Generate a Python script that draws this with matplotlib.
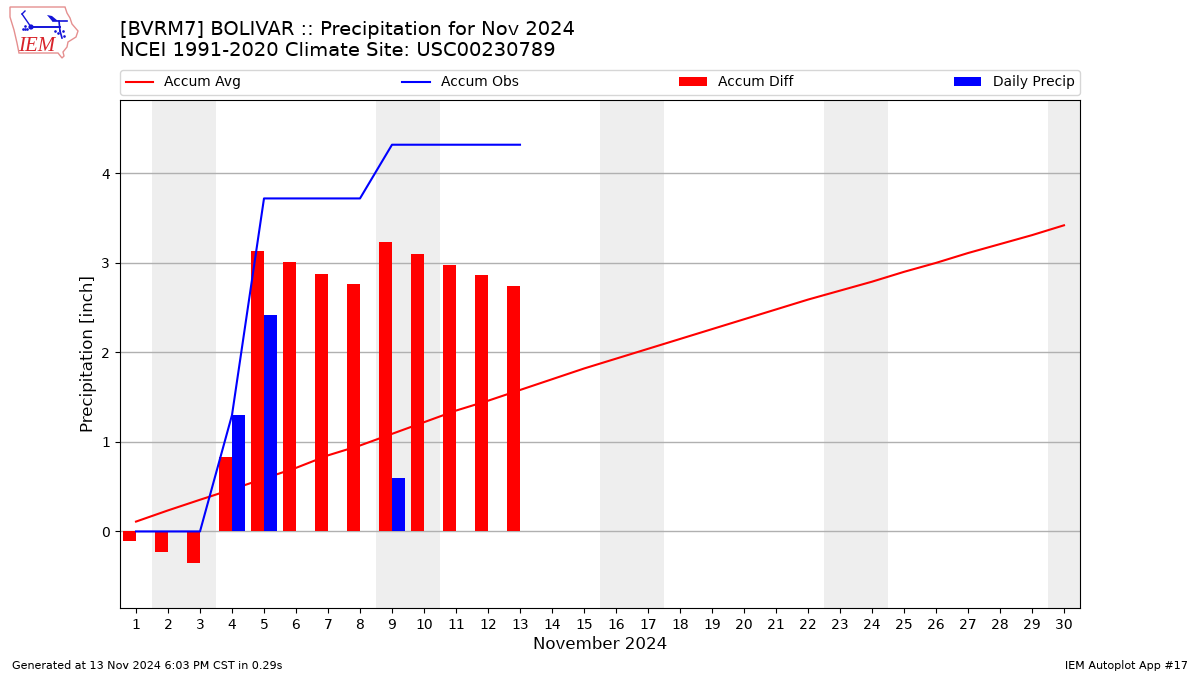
import matplotlib
matplotlib.use("Agg")
import matplotlib.pyplot as plt
from matplotlib.patches import Circle, Polygon

plt.rcParams["text.hinting"] = "native"

days = list(range(1, 31))
day_labels = [str(d) for d in days]
accum_avg = [0.11, 0.235, 0.354, 0.47, 0.59, 0.71, 0.85, 0.96, 1.09, 1.22, 1.35, 1.46, 1.58,
             1.70, 1.82, 1.93, 2.04, 2.15, 2.26, 2.37, 2.48, 2.59, 2.69, 2.79, 2.90, 3.00,
             3.11, 3.21, 3.31, 3.42]
obs_days = list(range(1, 14))
accum_obs = [0, 0, 0, 1.30, 3.72, 3.72, 3.72, 3.72, 4.32, 4.32, 4.32, 4.32, 4.32]
accum_diff = [-0.11, -0.235, -0.354, 0.827, 3.13, 3.005, 2.875, 2.76, 3.23, 3.095, 2.975, 2.86, 2.74]
daily_precip = [0, 0, 0, 1.30, 2.42, 0, 0, 0, 0.60, 0, 0, 0, 0]
weekends = [(1.5, 3.5), (8.5, 10.5), (15.5, 17.5), (22.5, 24.5), (29.5, 30.5)]
title = "[BVRM7] BOLIVAR :: Precipitation for Nov 2024\nNCEI 1991-2020 Climate Site: USC00230789"

fig = plt.figure(figsize=(12, 6.75), dpi=100)
ax = fig.add_axes([0.1, 0.0993, 0.8, 0.7526])

for a, b in weekends:
    ax.axvspan(a, b, color="#eeeeee", lw=0, zorder=0.5)
ax.grid(axis="y", color="#b0b0b0", lw=1, zorder=1)
ax.set_axisbelow(True)

l_avg, = ax.plot(days, accum_avg, color="red", lw=1.5, label="Accum Avg", zorder=2)
b_diff = ax.bar(obs_days, accum_diff, width=-0.4, align="edge", color="red", label="Accum Diff", zorder=2.1)
l_obs, = ax.plot(obs_days, accum_obs, color="blue", lw=1.5, label="Accum Obs", zorder=2.2)
b_prec = ax.bar(obs_days, daily_precip, width=0.4, align="edge", color="blue", label="Daily Precip", zorder=2.3)

ax.set_xlim(0.5, 30.5)
ax.set_ylim(-0.855, 4.82)
ax.set_xticks(days)
ax.set_xticklabels(day_labels)
ax.set_yticks([0, 1, 2, 3, 4])
ax.tick_params(labelsize=10)
ax.set_xlabel("November 2024", fontsize=12, labelpad=3)
ax.set_ylabel("Precipitation [inch]", fontsize=12, labelpad=3)

ax.legend([l_avg, l_obs, b_diff, b_prec], ["Accum Avg", "Accum Obs", "Accum Diff", "Daily Precip"],
          ncol=4, mode="expand", loc="lower left", bbox_to_anchor=(0, 1.0098, 1, 0.05),
          borderaxespad=0, fontsize=10)

fig.text(0.1, 0.9685, title, fontsize=14, va="top", ha="left")
fig.text(0.01, 0.0055, "Generated at 13 Nov 2024 6:03 PM CST in 0.29s", fontsize=8, va="bottom", ha="left")
fig.text(0.99, 0.0055, "IEM Autoplot App #17", fontsize=8, va="bottom", ha="right")

# Logo, drawn in its own pixel-sized overlay
logo = fig.add_axes([0, 1 - 65 / 675, 90 / 1200, 65 / 675])
logo.set_xlim(0, 90)
logo.set_ylim(65, 0)
logo.axis("off")
outline = [(10, 7), (65, 7), (67, 13), (70, 18), (72, 24), (78, 31), (76, 37), (68, 42), (67, 47),
           (63, 52), (64, 56), (62, 58), (58, 53), (19, 53), (17, 43), (14, 30), (10, 17)]
logo.add_patch(Polygon(outline, closed=True, fill=False, ec="#e58f8f", lw=1))
logo.plot([31, 60], [27, 27], color="#1414d8", lw=1.4)
logo.plot([53, 67], [21, 21], color="#1414d8", lw=1.2)
logo.plot([59, 60], [21, 31], color="#1414d8", lw=1.2)
logo.plot([60, 62], [31, 38], color="#1414d8", lw=1.2)
logo.plot([22, 31], [14, 27], color="#1414d8", lw=1)
logo.plot([22, 25], [14, 11], color="#1414d8", lw=1)
logo.add_patch(Polygon([(47, 15), (52, 16), (58, 21), (52, 21)], closed=True, fc="#1414d8", ec="none"))
logo.add_patch(Circle((31, 27), 2.6, fc="#1414d8", ec="none"))
logo.plot([23, 25, 27, 25], [29, 29, 29, 26], ".", color="#1414d8", ms=1.8)
logo.plot([55, 58, 63, 64], [31, 33, 31, 36], ".", color="#1414d8", ms=1.8)
logo.text(37, 45.5, "IEM", family="Liberation Serif", style="italic", color="#d8232a",
          fontsize=15, ha="center", va="center")

fig.savefig("out.png", dpi=100)
